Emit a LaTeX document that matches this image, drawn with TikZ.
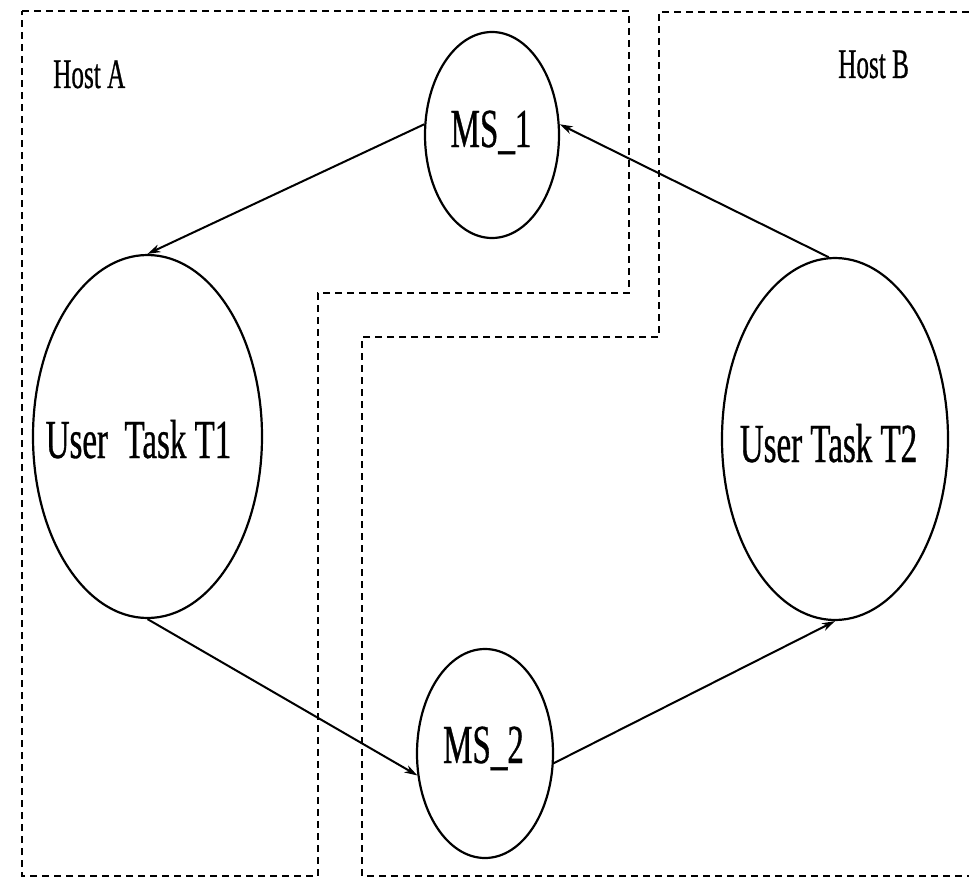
\documentclass[tikz,border=0pt]{standalone}
\usepackage{fontspec}
\setmainfont{Liberation Serif}
\newfontfamily\condserif[FakeStretch=0.6,FakeBold=0.6]{Liberation Serif}
\usetikzlibrary{shapes.geometric,arrows.meta}

\begin{document}
\begin{tikzpicture}[x=1pt,y=-1pt,
  proc/.style={draw, ellipse, line width=2.2pt, inner sep=0pt},
  hostline/.style={line width=2.1pt, dash pattern=on 7pt off 5pt},
  flow/.style={line width=2pt, -{Stealth[length=13pt,width=8pt,inset=4pt]}},
  bigtext/.style={font=\condserif\fontsize{55}{55}\selectfont, anchor=base, inner sep=0pt},
  hosttext/.style={font=\condserif\fontsize{42}{42}\selectfont, anchor=base west, inner sep=0pt}]

\useasboundingbox (0,0) rectangle (969,880);

% host boundaries
\draw[hostline] (22,11) -- (629,11) -- (629,293) -- (318,293) -- (318,876) -- (22,876) -- cycle;
\draw[hostline] (969,12) -- (659,12) -- (659,337) -- (362,337) -- (362,876) -- (969,876);

\node[hosttext] (hosta) at (53,88) {Host A};
\node[hosttext] (hostb) at (838,78) {Host B};

% tasks and message servers
\node[proc, minimum width=134pt, minimum height=206pt] (ms1) at (492,135) {};
\node[proc, minimum width=136pt, minimum height=209pt] (ms2) at (485,753.5) {};
\node[proc, minimum width=229pt, minimum height=363pt] (t1) at (147.5,436.5) {};
\node[proc, minimum width=226pt, minimum height=362pt] (t2) at (835,439) {};

\node[bigtext] (ms1txt) at (491,147) {MS\_1};
\node[bigtext] (ms2txt) at (483.5,763) {MS\_2};
\node[bigtext] (t1txt) at (138.5,458) {User\ \ Task T1};
\node[bigtext] (t2txt) at (828.5,462) {User Task T2};

% message flow
\draw[flow] (ms1.171) -- (t1.north);
\draw[flow] (t2.92) -- (ms1.9);
\draw[flow] (t1.south) -- (ms2.198);
\draw[flow] (ms2.352) -- (t2.south);
\end{tikzpicture}
\end{document}
